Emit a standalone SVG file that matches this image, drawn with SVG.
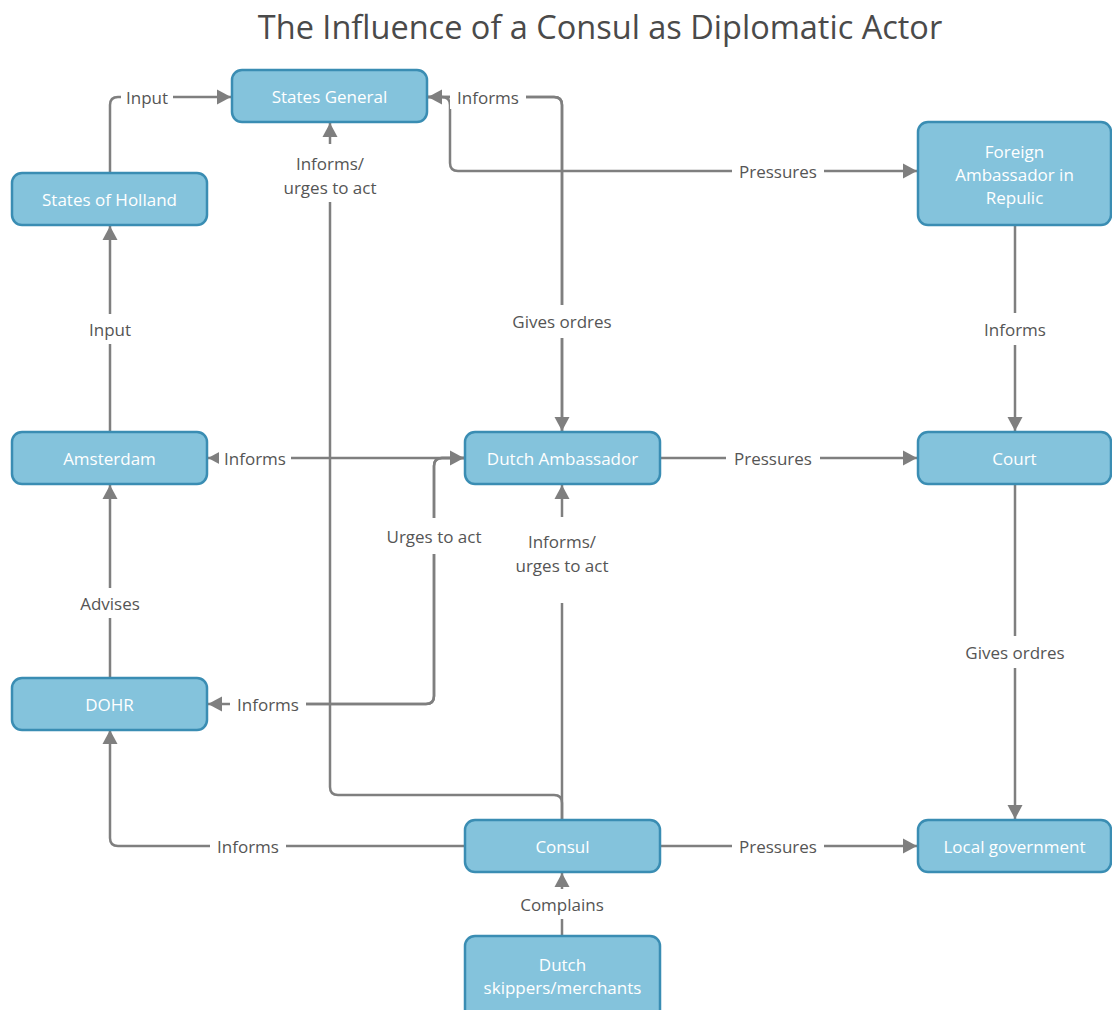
<svg xmlns="http://www.w3.org/2000/svg" width="1112" height="1010" viewBox="0 0 1112 1010">
<style>
.node rect{fill:#84c3dc;stroke:#3a8db3;stroke-width:2.5}
.node text{fill:#ffffff;font-family:"Open Sans","Noto Sans",sans-serif;font-size:17px;text-anchor:middle;dominant-baseline:central}
.c path{fill:none;stroke:#7f7f7f;stroke-width:2.5}
.lbl rect{fill:#ffffff}
.lbl text{fill:#555555;font-family:"Open Sans","Noto Sans",sans-serif;font-size:17px;text-anchor:middle;dominant-baseline:central}
.title{fill:#4a4a4a;font-family:"Open Sans","Noto Sans",sans-serif;font-size:32.5px;text-anchor:middle}
</style>
<defs>
<marker id="ah" markerUnits="userSpaceOnUse" markerWidth="16" markerHeight="16" viewBox="0 0 16 16" refX="15" refY="8" orient="auto">
<path d="M1,0.5 L15,8 L1,15.5 Z" fill="#7f7f7f"/>
</marker>
</defs>
<rect width="1112" height="1010" fill="#ffffff"/>
<text class="title" x="600" y="39">The Influence of a Consul as Diplomatic Actor</text>

<g id="connectors" class="c">
<path d="M110,173 V105 Q110,97 118,97 H231" marker-end="url(#ah)"/>
<path d="M110,432 V226" marker-end="url(#ah)"/>
<path d="M562,432 V105 Q562,97 554,97 H428" marker-end="url(#ah)"/>
<path d="M428,97 H554 Q562,97 562,105 V431" marker-end="url(#ah)"/>
<path d="M428,97 H442 Q450,97 450,105 V163 Q450,171 458,171 H917" marker-end="url(#ah)"/>
<path d="M1015,225 V431" marker-end="url(#ah)"/>
<path d="M660,458 H917" marker-end="url(#ah)"/>
<path d="M1015,484 V819" marker-end="url(#ah)"/>
<path d="M465,458 H208" marker-end="url(#ah)"/>
<path d="M464,458 H442 Q434,458 434,466 V696 Q434,704 426,704 H208" marker-end="url(#ah)"/>
<path d="M300,704 H426 Q434,704 434,696 V466 Q434,458 442,458 H464" marker-end="url(#ah)"/>
<path d="M562,820 V803 Q562,795 554,795 H338 Q330,795 330,787 V123" marker-end="url(#ah)"/>
<path d="M562,820 V485" marker-end="url(#ah)"/>
<path d="M110,678 V485" marker-end="url(#ah)"/>
<path d="M465,846 H118 Q110,846 110,838 V730" marker-end="url(#ah)"/>
<path d="M660,846 H917" marker-end="url(#ah)"/>
<path d="M562,936 V873" marker-end="url(#ah)"/>
</g>

<g id="labels" class="lbl">
<rect x="121" y="85" width="52" height="24"/><text x="147" y="97">Input</text>
<rect x="84" y="314" width="52" height="30"/><text x="110" y="329">Input</text>
<rect x="450" y="85" width="76" height="24"/><text x="488" y="97">Informs</text>
<rect x="732" y="159" width="92" height="24"/><text x="778" y="171">Pressures</text>
<rect x="276" y="144" width="108" height="58"/><text x="330" y="163">Informs/</text><text x="330" y="187">urges to act</text>
<rect x="504" y="305" width="116" height="33"/><text x="562" y="321">Gives ordres</text>
<rect x="976" y="313" width="78" height="32"/><text x="1015" y="329">Informs</text>
<rect x="219" y="446" width="72" height="24"/><text x="255" y="458">Informs</text>
<rect x="726" y="446" width="94" height="24"/><text x="773" y="458">Pressures</text>
<rect x="378" y="518" width="112" height="36"/><text x="434" y="536">Urges to act</text>
<rect x="508" y="517" width="108" height="86"/><text x="562" y="541">Informs/</text><text x="562" y="565">urges to act</text>
<rect x="72" y="588" width="76" height="30"/><text x="110" y="603">Advises</text>
<rect x="230" y="692" width="76" height="24"/><text x="268" y="704">Informs</text>
<rect x="958" y="636" width="114" height="32"/><text x="1015" y="652">Gives ordres</text>
<rect x="210" y="834" width="76" height="24"/><text x="248" y="846">Informs</text>
<rect x="732" y="834" width="92" height="24"/><text x="778" y="846">Pressures</text>
<rect x="512" y="889" width="100" height="30"/><text x="562" y="904">Complains</text>
</g>

<g id="n-states-general" class="node"><rect x="232" y="70" width="195" height="52" rx="10"/><text x="329.5" y="96">States General</text></g>
<g id="n-states-holland" class="node"><rect x="12" y="173" width="195" height="52" rx="10"/><text x="109.5" y="199">States of Holland</text></g>
<g id="n-foreign-amb" class="node"><rect x="918" y="122" width="193" height="103" rx="10"/><text x="1014.5" y="151">Foreign</text><text x="1014.5" y="174">Ambassador in</text><text x="1014.5" y="197">Repulic</text></g>
<g id="n-amsterdam" class="node"><rect x="12" y="432" width="195" height="52" rx="10"/><text x="109.5" y="458">Amsterdam</text></g>
<g id="n-dutch-amb" class="node"><rect x="465" y="432" width="195" height="52" rx="10"/><text x="562.5" y="458">Dutch Ambassador</text></g>
<g id="n-court" class="node"><rect x="918" y="432" width="193" height="52" rx="10"/><text x="1014.5" y="458">Court</text></g>
<g id="n-dohr" class="node"><rect x="12" y="678" width="195" height="52" rx="10"/><text x="109.5" y="704">DOHR</text></g>
<g id="n-consul" class="node"><rect x="465" y="820" width="195" height="52" rx="10"/><text x="562.5" y="846">Consul</text></g>
<g id="n-local-gov" class="node"><rect x="918" y="820" width="193" height="52" rx="10"/><text x="1014.5" y="846">Local government</text></g>
<g id="n-skippers" class="node"><rect x="465" y="936" width="195" height="103" rx="10"/><text x="562.5" y="964">Dutch</text><text x="562.5" y="987">skippers/merchants</text></g>
</svg>
